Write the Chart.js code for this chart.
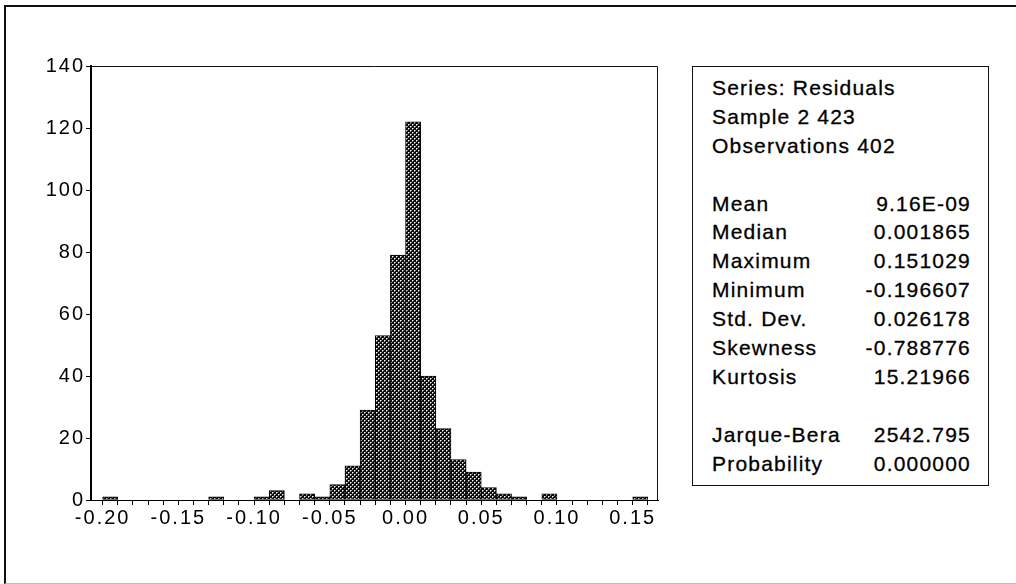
<!DOCTYPE html>
<html>
<head>
<meta charset="utf-8">
<script src="https://cdn.jsdelivr.net/npm/chart.js@4"></script>
<style>
  html, body { margin: 0; padding: 0; background: #fff; }
  body { width: 1016px; height: 584px; position: relative; overflow: hidden; }
  #frame { position: absolute; left: 4px; top: 5px; width: 1100px; height: 576px;
           border-left: 2px solid #111; border-top: 2px solid #111; border-bottom: 1px solid #bbb; }
  #chartBox { position: absolute; left: 0; top: 0; width: 680px; height: 584px; }
  #stats { position: absolute; left: 692px; top: 66px; width: 297px; height: 420px;
           border: 1px solid #111; box-sizing: border-box;
           font-family: "Liberation Sans", Arial, sans-serif; font-size: 21px; letter-spacing: 1.2px;
           color: #000; padding: 7px 17px 0 19px; line-height: 28.9px;
           -webkit-text-stroke: 0.3px #000; }
  #stats .row { display: flex; justify-content: space-between; height: 28.9px; }
</style>
</head>
<body>
<div id="frame"></div>
<div id="chartBox"><canvas id="hist" width="680" height="584"></canvas></div>
<div id="stats"></div>
<script>
// histogram bins (lower edge) and counts
const binLo = [-0.20, -0.19, -0.18, -0.17, -0.16, -0.15, -0.14, -0.13, -0.12, -0.11,
               -0.10, -0.09, -0.08, -0.07, -0.06, -0.05, -0.04, -0.03, -0.02, -0.01,
               0.00, 0.01, 0.02, 0.03, 0.04, 0.05, 0.06, 0.07, 0.08, 0.09,
               0.10, 0.11, 0.12, 0.13, 0.14, 0.15];
const counts = [1, 0, 0, 0, 0, 0, 0, 1, 0, 0,
                1, 3, 0, 2, 1, 5, 11, 29, 53, 79,
                122, 40, 23, 13, 9, 4, 2, 1, 0, 2,
                0, 0, 0, 0, 0, 1];
const binWidth = 0.01;
const xTicks = [-0.20, -0.19, -0.18, -0.17, -0.16, -0.15, -0.14, -0.13, -0.12, -0.11,
                -0.10, -0.09, -0.08, -0.07, -0.06, -0.05, -0.04, -0.03, -0.02, -0.01,
                0.00, 0.01, 0.02, 0.03, 0.04, 0.05, 0.06, 0.07, 0.08, 0.09,
                0.10, 0.11, 0.12, 0.13, 0.14, 0.15, 0.16];
const yTicks = [0, 20, 40, 60, 80, 100, 120, 140];

const headerLines = ["Series: Residuals", "Sample 2 423", "Observations 402"];
const statNames = ["Mean", "Median", "Maximum", "Minimum", "Std. Dev.", "Skewness", "Kurtosis"];
const statValues = ["9.16E-09", "0.001865", "0.151029", "-0.196607", "0.026178", "-0.788776", "15.21966"];
const testNames = ["Jarque-Bera", "Probability"];
const testValues = ["2542.795", "0.000000"];

// stats box
(function () {
  const box = document.getElementById("stats");
  const addRow = (a, b) => {
    const r = document.createElement("div");
    r.className = "row";
    const s1 = document.createElement("span"); s1.textContent = a || "";
    const s2 = document.createElement("span"); s2.textContent = b || "";
    r.appendChild(s1); r.appendChild(s2);
    box.appendChild(r);
  };
  headerLines.forEach((h) => addRow(h, ""));
  addRow("", "");
  statNames.forEach((n, i) => addRow(n, statValues[i]));
  addRow("", "");
  testNames.forEach((n, i) => addRow(n, testValues[i]));
})();

// dotted fill like the printed bars
function makePattern() {
  const c = document.createElement("canvas");
  c.width = 4; c.height = 4;
  const g = c.getContext("2d");
  g.fillStyle = "#0d0d0d"; g.fillRect(0, 0, 4, 4);
  g.fillStyle = "#8a8a8a";
  g.fillRect(1, 0, 1, 1); g.fillRect(0, 1, 1, 1); g.fillRect(3, 2, 1, 1); g.fillRect(2, 3, 1, 1);
  g.fillStyle = "#ffffff";
  g.fillRect(0, 0, 1, 1); g.fillRect(2, 2, 1, 1);
  return g.createPattern(c, "repeat");
}

const canvas = document.getElementById("hist");
const ctx = canvas.getContext("2d");

const framePlugin = {
  id: "frame",
  beforeDraw(chart) { chart.ctx.letterSpacing = "2px"; },
  afterDraw(chart) {
    const a = chart.chartArea, c = chart.ctx;
    c.save();
    c.strokeStyle = "#111";
    c.lineWidth = 1;
    c.beginPath();
    c.moveTo(a.left, a.top + 0.5);
    c.lineTo(a.right - 0.5, a.top + 0.5);
    c.lineTo(a.right - 0.5, a.bottom);
    c.stroke();
    c.restore();
  }
};

new Chart(ctx, {
  type: "bar",
  data: {
    datasets: [{
      data: binLo.map((lo, i) => ({ x: lo + binWidth / 2, y: counts[i] })),
      backgroundColor: makePattern(),
      borderColor: "#000",
      borderWidth: 1,
      borderSkipped: false,
      barPercentage: 1,
      categoryPercentage: 1
    }]
  },
  options: {
    responsive: false,
    animation: false,
    layout: { padding: { left: 0, top: 66, right: 22, bottom: 0 } },
    plugins: { legend: { display: false }, tooltip: { enabled: false } },
    scales: {
      x: {
        type: "linear",
        offset: false,
        min: -0.2077,
        max: 0.1667,
        afterBuildTicks: (scale) => { scale.ticks = xTicks.map((v) => ({ value: v })); },
        afterFit: (scale) => { scale.height = 84; },
        grid: { drawOnChartArea: false, offset: false, tickLength: 5, color: "#000", lineWidth: 1 },
        border: { display: true, color: "#000", width: 1 },
        ticks: {
          autoSkip: false,
          maxRotation: 0,
          padding: 1,
          color: "#000",
          font: { family: "'Liberation Sans', Arial, sans-serif", size: 20 },
          callback: (v) => (Math.round(v * 100) % 5 === 0 ? v.toFixed(2) : "")
        }
      },
      y: {
        min: 0,
        max: 140,
        afterBuildTicks: (scale) => { scale.ticks = yTicks.map((v) => ({ value: v })); },
        afterFit: (scale) => { scale.width = 91; },
        grid: { drawOnChartArea: false, tickLength: 5, color: "#000", lineWidth: 1 },
        border: { display: true, color: "#000", width: 2 },
        ticks: {
          padding: 1,
          color: "#000",
          font: { family: "'Liberation Sans', Arial, sans-serif", size: 20 }
        }
      }
    }
  },
  plugins: [framePlugin]
});
</script>
</body>
</html>
